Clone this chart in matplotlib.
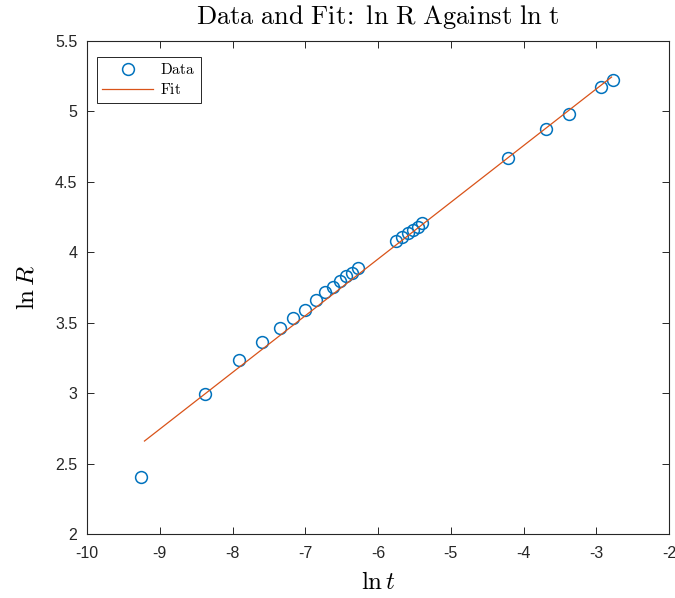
import matplotlib
matplotlib.use('Agg')
import matplotlib.pyplot as plt
import numpy as np

# data
ln_t = [-9.26, -8.38, -7.91, -7.595, -7.35, -7.17, -7.00, -6.85, -6.73, -6.62,
        -6.52, -6.44, -6.36, -6.275, -5.75, -5.67, -5.59, -5.52, -5.45, -5.395,
        -4.21, -3.69, -3.375, -2.935, -2.77]
ln_R = [2.405, 2.994, 3.235, 3.363, 3.462, 3.533, 3.590, 3.661, 3.718, 3.753,
        3.796, 3.832, 3.853, 3.888, 4.080, 4.108, 4.137, 4.158, 4.179, 4.208,
        4.669, 4.875, 4.982, 5.173, 5.223]

# fit line (slope, intercept)
fit_coef = [0.4025, 6.367]
fit_x = [-9.21, -2.79]

plt.rcParams['mathtext.fontset'] = 'cm'
plt.rcParams['font.family'] = ['Liberation Sans', 'DejaVu Sans']
plt.rcParams['axes.unicode_minus'] = False

fig = plt.figure(figsize=(6.75, 5.98), dpi=100)
ax = fig.add_axes([87 / 675, 64 / 598, 582 / 675, 493 / 598])

ax.plot(ln_t, ln_R, 'o', mfc='none', mec='#0072BD', ms=8.5, mew=1.1, label=r'$\mathrm{Data}$')
fx = np.array(fit_x)
ax.plot(fx, np.polyval(fit_coef, fx), '-', color='#D95319', lw=0.9, label=r'$\mathrm{Fit}$')

ax.set_xlim(-10, -2)
ax.set_ylim(2, 5.5)
ax.set_xticks(np.arange(-10, -1, 1))
ax.set_yticks(np.arange(2, 5.51, 0.5))
ax.set_yticklabels(['2', '2.5', '3', '3.5', '4', '4.5', '5', '5.5'])
ax.tick_params(direction='in', top=True, right=True, labelsize=11.5,
               colors='#262626', length=5, width=0.7)
ax.tick_params(axis='x', pad=9)
ax.tick_params(axis='y', pad=7)
for s in ax.spines.values():
    s.set_linewidth(0.8)
    s.set_color('#262626')

ax.set_title(r'$\mathrm{Data\ and\ Fit\!:\ ln\ R\ Against\ ln\ t}$', fontsize=19, pad=12)
ax.set_xlabel(r'$\ln t$', fontsize=18, labelpad=6)
ax.set_ylabel(r'$\ln R$', fontsize=18, labelpad=12)

leg = ax.legend(loc='upper left', bbox_to_anchor=(0.0172, 0.968), fontsize=11,
                fancybox=False, framealpha=1, edgecolor='#262626',
                borderpad=0.35, handlelength=3.3, handletextpad=0.5, labelspacing=0.35,
                borderaxespad=0)
leg.get_frame().set_linewidth(0.7)

fig.savefig('out.png', dpi=100)
